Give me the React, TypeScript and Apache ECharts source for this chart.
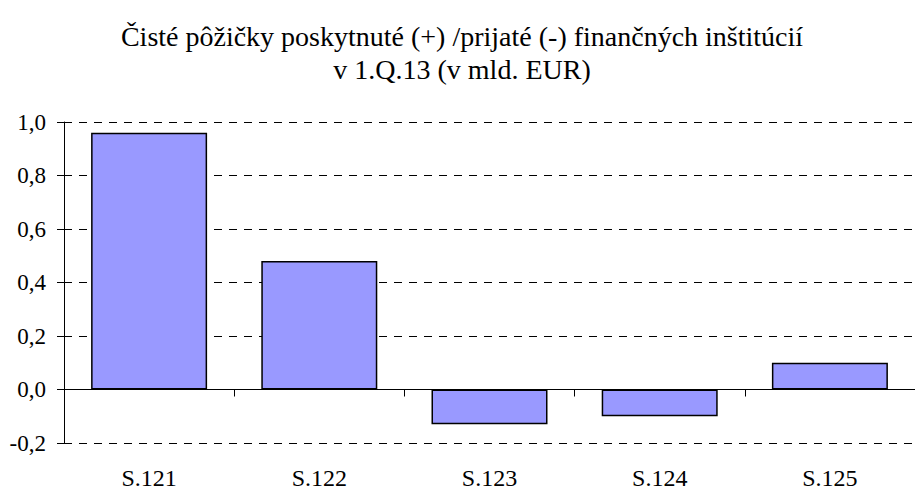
import React, { useEffect, useRef } from "react";
import * as echarts from "echarts";

const titleLines = [
  "Čisté pôžičky poskytnuté (+) /prijaté (-) finančných inštitúcií",
  "v 1.Q.13 (v mld. EUR)",
];
const categories = ["S.121", "S.122", "S.123", "S.124", "S.125"];
const values = [0.96, 0.48, -0.13, -0.1, 0.1];
const yMin = -0.2;
const yMax = 1.0;
const yStep = 0.2;

const FONT = "Liberation Serif";

export default function App() {
  const ref = useRef<HTMLDivElement>(null);
  useEffect(() => {
    const chart = echarts.init(ref.current!, null, { renderer: "svg" });
    chart.setOption({
      animation: false,
      backgroundColor: "#ffffff",
      title: {
        text: titleLines.join("\n"),
        left: 457,
        top: 15,
        textAlign: "center",
        textStyle: {
          fontFamily: FONT,
          fontSize: 28,
          fontWeight: "normal",
          color: "#000",
          lineHeight: 33,
        },
      },
      grid: { left: 64, top: 122, width: 858, height: 321 },
      xAxis: [
        {
          type: "category",
          data: categories,
          position: "bottom",
          axisLine: { show: false, onZero: false },
          axisTick: { show: false },
          axisLabel: {
            fontFamily: FONT,
            fontSize: 24,
            color: "#000",
            margin: 23,
          },
        },
        {
          type: "category",
          data: categories,
          position: "bottom",
          axisLine: { show: true, onZero: true, lineStyle: { color: "#000", width: 1 } },
          axisTick: { show: true, length: 7, lineStyle: { color: "#000" } },
          axisLabel: { show: false },
        },
      ],
      yAxis: {
        type: "value",
        min: yMin,
        max: yMax,
        interval: yStep,
        axisLine: { show: true, lineStyle: { color: "#000", width: 1 } },
        axisTick: { show: true, length: 7, lineStyle: { color: "#000" } },
        axisLabel: {
          fontFamily: FONT,
          fontSize: 23,
          color: "#000",
          margin: 18,
          formatter: (v: number) => v.toFixed(1).replace(".", ","),
        },
        splitLine: {
          show: true,
          lineStyle: { color: "#000", type: [8, 7], width: 1 },
        },
      },
      series: [
        {
          type: "bar",
          data: values,
          xAxisIndex: 0,
          barWidth: 116,
          itemStyle: { color: "#9999FF", borderColor: "#000", borderWidth: 1.5 },
        },
      ],
    });
    return () => chart.dispose();
  }, []);
  return (
    <div
      ref={ref}
      style={{ position: "absolute", left: 0, top: 0, width: 915, height: 493 }}
    />
  );
}
